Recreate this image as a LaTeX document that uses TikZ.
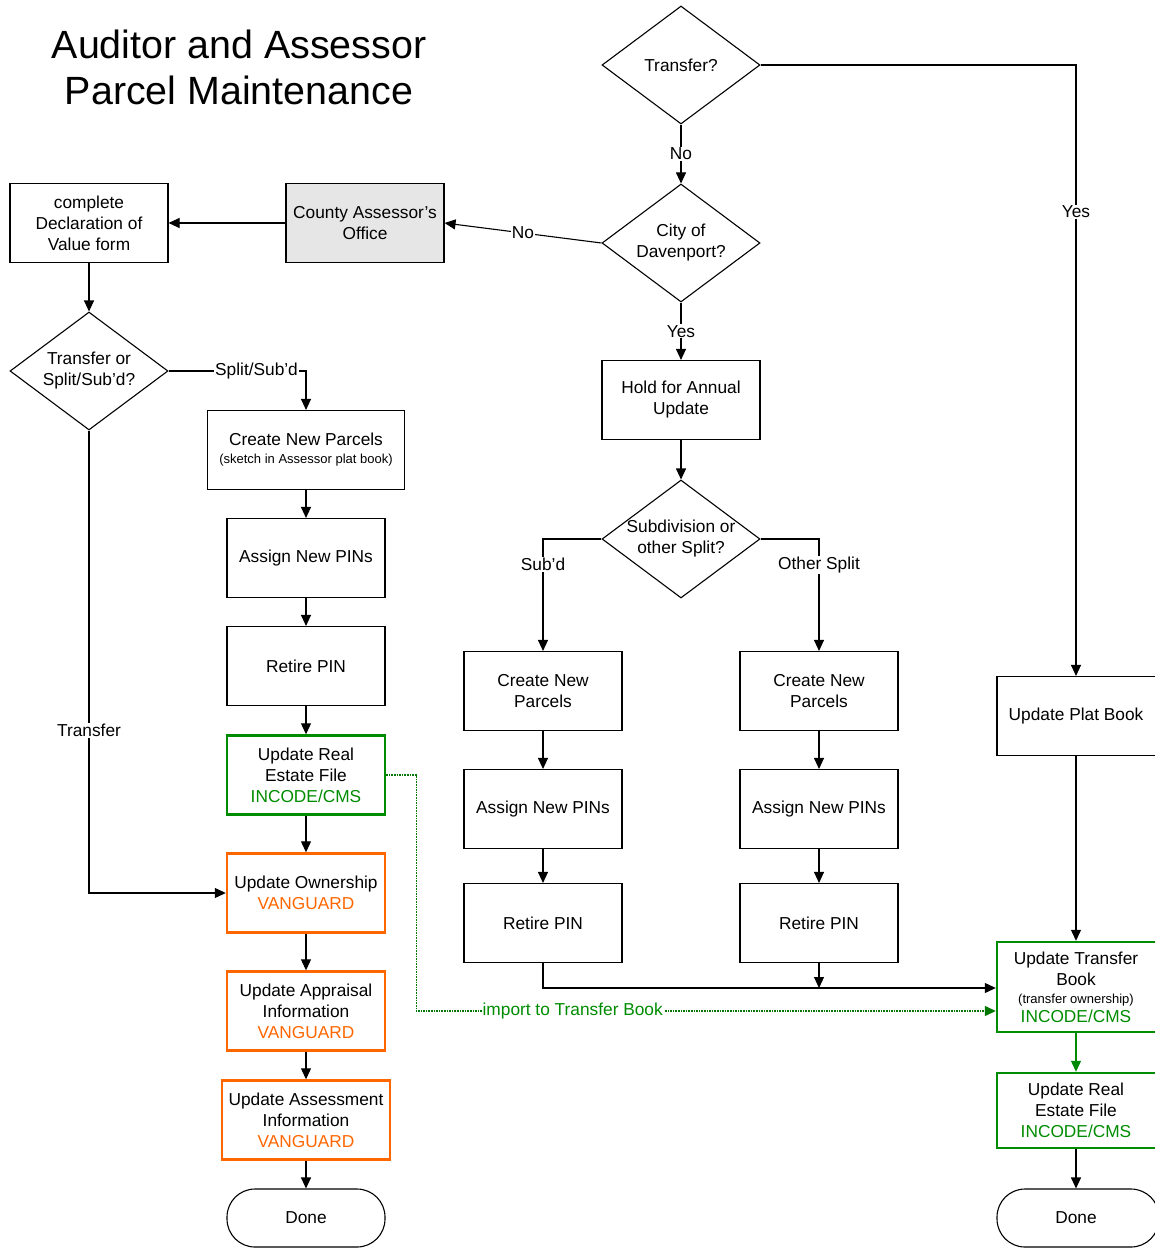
\documentclass[tikz,border=0pt]{standalone}
\usepackage{fontspec}
\setmainfont{Liberation Sans}
\usetikzlibrary{shapes.geometric,arrows.meta}
\definecolor{incgreen}{RGB}{0,140,0}
\definecolor{vanorange}{RGB}{255,102,0}
\definecolor{officegray}{RGB}{230,230,230}
\newcommand{\smalltxt}[1]{{\fontsize{13}{15}\selectfont #1}}
\newcommand{\inc}{\textcolor{incgreen}{INCODE/CMS}}
\newcommand{\van}{\textcolor{vanorange}{VANGUARD}}
\begin{document}
\begin{tikzpicture}[x=1pt,y=-1pt,
  every node/.style={font=\fontsize{17.3}{21}\selectfont},
  box/.style={draw, line width=1.1, minimum width=158, minimum height=79,
    align=center, inner sep=2},
  greenbox/.style={box, draw=incgreen, line width=2.4},
  orangebox/.style={box, draw=vanorange, line width=2.4},
  decision/.style={draw, line width=1.1, diamond, minimum width=158,
    minimum height=118, inner sep=0},
  terminal/.style={draw, line width=1.1, rounded corners=28,
    minimum width=158, minimum height=58},
  txt/.style={align=center, inner sep=0},
  flow/.style={line width=1.1, -{Triangle[length=11,width=10]}},
  importflow/.style={incgreen!85!black, dash pattern=on 1.6pt off 1pt,
    line width=1.2, -{Triangle[length=11,width=10]}},
  lbl/.style={fill=white, inner sep=1},
]
\useasboundingbox (0,0) rectangle (1154,1249);

% heading
\node[txt, font=\fontsize{39.4}{46}\selectfont] (title) at (239,67)
  {Auditor and Assessor\\Parcel Maintenance};

% decisions
\node[decision] (tq) at (681,65) {};
\node[txt] (tqt) at (tq) {Transfer?};
\node[decision] (cd) at (681,243) {};
\node[txt] (cdt) at (cd) {City of\\Davenport?};
\node[decision] (ts) at (89,371) {};
\node[txt] (tst) at (ts) {Transfer or\\Split/Sub’d?};
\node[decision] (sd) at (681,539) {};
\node[txt] (sdt) at (sd) {Subdivision or\\other Split?};

% county side
\node[box, fill=officegray] (cao) at (365,223) {County Assessor’s\\Office};
\node[box] (dec) at (89,223) {complete\\Declaration of\\Value form};
\node[box, minimum width=197] (cnp) at (306,450)
  {Create New Parcels\\[-3pt]\smalltxt{(sketch in Assessor plat book)}};
\node[box] (anp) at (306,558) {Assign New PINs};
\node[box] (rp) at (306,666) {Retire PIN};
\node[greenbox] (ure) at (306,775) {Update Real\\Estate File\\\inc};
\node[orangebox] (uo) at (306,893) {Update Ownership\\\van};
\node[orangebox] (uai) at (306,1011) {Update Appraisal\\Information\\\van};
\node[orangebox, minimum width=168] (uas) at (306,1120)
  {Update Assessment\\Information\\\van};
\node[terminal] (done1) at (306,1218) {Done};

% city side
\node[box] (hau) at (681,400) {Hold for Annual\\Update};
\node[box] (cnl) at (543,691) {Create New\\Parcels};
\node[box] (anl) at (543,809) {Assign New PINs};
\node[box] (rpl) at (543,923) {Retire PIN};
\node[box] (cnr) at (819,691) {Create New\\Parcels};
\node[box] (anr) at (819,809) {Assign New PINs};
\node[box] (rpr) at (819,923) {Retire PIN};

% transfer side (boxes run past the right edge of the sheet)
\node[box, minimum width=162] (upb) at (1078,716) {};
\node[txt] (upbt) at (1076,716) {Update Plat Book};
\node[greenbox, minimum width=162, minimum height=90] (utb) at (1078,987) {};
\node[txt] (utbt) at (1076,987)
  {Update Transfer\\Book\\[-3pt]\smalltxt{(transfer ownership)}\\[-2pt]\inc};
\node[greenbox, minimum width=162, minimum height=75] (ure2) at (1078,1110.5) {};
\node[txt] (ure2t) at (1076,1110.5) {Update Real\\Estate File\\\inc};
\node[terminal, minimum width=162] (done2) at (1078,1218) {};
\node[txt] (done2t) at (1076,1218) {Done};

% connectors
\draw[flow] (tq.south) -- node[lbl] {No} (cd.north);
\draw[flow] (cd.west) -- node[lbl] {No} (cao.east);
\draw[flow] (cao.west) -- (dec.east);
\draw[flow] (dec.south) -- (ts.north);
\draw[flow] (ts.east) -| node[lbl, pos=0.32] {Split/Sub’d} (cnp.north);
\draw[flow] (ts.south) |- node[lbl, pos=0.324] {Transfer} (uo.west);
\draw[flow] (cnp) -- (anp);
\draw[flow] (anp) -- (rp);
\draw[flow] (rp) -- (ure);
\draw[flow] (ure) -- (uo);
\draw[flow] (uo) -- (uai);
\draw[flow] (uai) -- (uas);
\draw[flow] (uas) -- (done1);

\draw[flow] (cd.south) -- node[lbl] {Yes} (hau.north);
\draw[flow] (hau) -- (sd.north);
\draw[flow] (sd.west) -| node[lbl, pos=0.615] {Sub’d} (cnl.north);
\draw[flow] (sd.east) -| node[lbl, pos=0.615] {Other Split} (cnr.north);
\draw[flow] (cnl) -- (anl);
\draw[flow] (anl) -- (rpl);
\draw[flow] (cnr) -- (anr);
\draw[flow] (anr) -- (rpr);
\draw[flow] (rpl.south) |- ([yshift=-1]utb.west);
\draw[flow] (rpr.south) -- (rpr.south |- 0,988);

\draw[flow] (tq.east) -| node[lbl, pos=0.62] {Yes} (upbt.north |- upb.north);
\draw[flow] (upbt.south |- upb.south) -- (upbt.south |- utb.north);
\draw[flow, incgreen] (utbt.south |- utb.south) -- (utbt.south |- ure2.north);
\draw[flow] (ure2t.south |- ure2.south) -- (ure2t.south |- done2.north);

\coordinate (imp) at ([xshift=30]ure.east);
\draw[importflow] (ure.east) -- (imp) -- (imp |- 0,1011)
  -- node[pos=0.27, fill=white, inner sep=1, text=incgreen] {import to Transfer Book}
  ([yshift=-24]utb.west);
\end{tikzpicture}
\end{document}
